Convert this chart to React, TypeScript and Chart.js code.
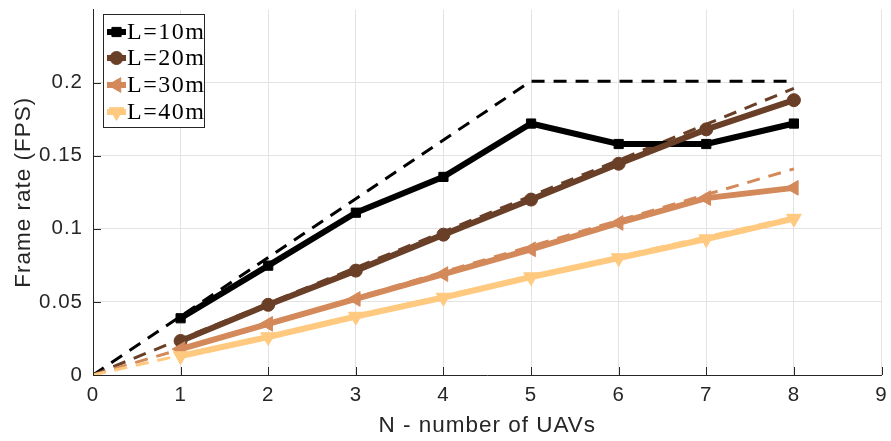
import React, { useEffect, useRef } from "react";
import { Chart, registerables } from "chart.js";
import { drawPoint } from "chart.js/helpers";
Chart.register(...registerables);

const uavCounts = [1, 2, 3, 4, 5, 6, 7, 8];
const fps10 = [0.0388, 0.0748, 0.111, 0.1355, 0.172, 0.158, 0.158, 0.172];
const fps20 = [0.0233, 0.048, 0.0714, 0.096, 0.12, 0.1445, 0.168, 0.188];
const fps30 = [0.0177, 0.035, 0.052, 0.069, 0.086, 0.104, 0.121, 0.128];
const fps40 = [0.013, 0.026, 0.04, 0.053, 0.067, 0.08, 0.093, 0.107];

const boundN10 = [0, 5, 8];
const bound10 = [0, 0.201, 0.201];
const boundN = [0, 8];
const bound20 = [0, 0.196];
const bound30 = [0, 0.141];
const bound40 = [0, 0.108];

const seriesLabels = ["L=10m", "L=20m", "L=30m", "L=40m"];
const seriesColors = ["#000000", "#6a3f27", "#d4895a", "#ffc97f"];
const xTicks = [0, 1, 2, 3, 4, 5, 6, 7, 8, 9];
const yTicks = [0, 0.05, 0.1, 0.15, 0.2];

const markerStyles = [
  { pointStyle: "rect", rotation: 0, radius: 6.5 },
  { pointStyle: "circle", rotation: 0, radius: 6.5 },
  { pointStyle: "triangle", rotation: -90, radius: 8.5 },
  { pointStyle: "triangle", rotation: 180, radius: 8.5 },
];

const toXY = (xs: number[], ys: number[]) => xs.map((x, i) => ({ x, y: ys[i] }));

const spacingPlugin = {
  id: "letterSpacing",
  beforeLayout(chart: any) {
    chart.ctx.letterSpacing = "1px";
  },
  beforeDraw(chart: any) {
    chart.ctx.letterSpacing = "1px";
  },
};

const legendPlugin = {
  id: "insideLegend",
  afterDraw(chart: any) {
    const ctx = chart.ctx;
    const x0 = 103.5, y0 = 14.5, w = 101, h = 113;
    ctx.save();
    ctx.fillStyle = "#ffffff";
    ctx.fillRect(x0, y0, w, h);
    ctx.strokeStyle = "#262626";
    ctx.lineWidth = 1;
    ctx.strokeRect(x0, y0, w, h);
    const rows = [32, 58, 85, 112];
    seriesLabels.forEach((lab, i) => {
      const y = rows[i];
      ctx.strokeStyle = seriesColors[i];
      ctx.fillStyle = seriesColors[i];
      ctx.lineWidth = 6;
      ctx.setLineDash([]);
      ctx.beginPath();
      ctx.moveTo(107, y);
      ctx.lineTo(126, y);
      ctx.stroke();
      ctx.lineWidth = 1;
      drawPoint(ctx, { ...markerStyles[i], borderWidth: 1 } as any, 116.5, y);
      ctx.fillStyle = "#000000";
      ctx.font = '24px "Liberation Serif"';
      ctx.letterSpacing = "1.5px";
      ctx.textBaseline = "middle";
      ctx.textAlign = "left";
      ctx.fillText(lab, 127, y + 1);
    });
    // inward tick marks
    const area = chart.chartArea;
    const xs = chart.scales.x, ys = chart.scales.y;
    ctx.strokeStyle = "#262626";
    ctx.lineWidth = 1;
    xTicks.forEach((t) => {
      const px = Math.round(xs.getPixelForValue(t)) + 0.5;
      ctx.beginPath();
      ctx.moveTo(px, area.bottom);
      ctx.lineTo(px, area.bottom - 8);
      ctx.stroke();
    });
    yTicks.forEach((t) => {
      const py = Math.round(ys.getPixelForValue(t)) + 0.5;
      ctx.beginPath();
      ctx.moveTo(area.left, py);
      ctx.lineTo(area.left + 8, py);
      ctx.stroke();
    });
    ctx.restore();
  },
};

export default function App() {
  const ref = useRef<HTMLCanvasElement>(null);
  useEffect(() => {
    document.body.style.margin = "0";
    const solid = [fps10, fps20, fps30, fps40];
    const bounds = [
      toXY(boundN10, bound10),
      toXY(boundN, bound20),
      toXY(boundN, bound30),
      toXY(boundN, bound40),
    ];
    const datasets: any[] = [];
    [3, 2, 1, 0].forEach((i) => {
      datasets.push({
        label: seriesLabels[i] + " bound",
        data: bounds[i],
        borderColor: seriesColors[i],
        borderWidth: 3,
        borderDash: [13, 9],
        pointRadius: 0,
        fill: false,
        order: 10 - i,
      });
    });
    [3, 2, 1, 0].forEach((i) => {
      datasets.push({
        label: seriesLabels[i],
        data: toXY(uavCounts, solid[i]),
        borderColor: seriesColors[i],
        backgroundColor: seriesColors[i],
        borderWidth: 6,
        pointStyle: markerStyles[i].pointStyle,
        pointRotation: markerStyles[i].rotation,
        pointRadius: markerStyles[i].radius,
        pointBorderWidth: 1,
        fill: false,
        order: 4 - i,
      });
    });
    const chart = new Chart(ref.current!, {
      type: "line",
      data: { datasets },
      plugins: [spacingPlugin, legendPlugin],
      options: {
        animation: false,
        responsive: false,
        layout: { padding: { top: 7, right: 8, left: 0, bottom: 0 } },
        plugins: { legend: { display: false }, tooltip: { enabled: false } },
        scales: {
          x: {
            type: "linear",
            min: 0,
            max: 9,
            afterBuildTicks: (s: any) => {
              s.ticks = xTicks.map((v) => ({ value: v }));
            },
            afterFit: (s: any) => {
              s.height = 66;
              s.paddingLeft = 0;
              s.paddingRight = 0;
            },
            grid: { color: "#e3e3e3", drawTicks: false },
            border: { color: "#262626", width: 1 },
            ticks: {
              color: "#262626",
              font: { family: "Liberation Sans", size: 20.5 },
              padding: 8,
            },
            title: {
              display: true,
              text: "N - number of UAVs",
              color: "#262626",
              font: { family: "Liberation Sans", size: 22.5 },
              padding: { top: 0, bottom: 2 },
            },
          },
          y: {
            type: "linear",
            min: 0,
            max: 0.25,
            afterBuildTicks: (s: any) => {
              s.ticks = yTicks.map((v) => ({ value: v }));
            },
            afterFit: (s: any) => {
              s.width = 93;
              s.paddingTop = 0;
              s.paddingBottom = 0;
            },
            grid: { color: "#e3e3e3", drawTicks: false },
            border: { color: "#262626", width: 1 },
            ticks: {
              color: "#262626",
              font: { family: "Liberation Sans", size: 20.5 },
              padding: 10,
              callback: (v: any) => String(Number(v)),
            },
            title: {
              display: true,
              text: "Frame rate (FPS)",
              color: "#262626",
              font: { family: "Liberation Sans", size: 22.5 },
              padding: { top: 10, bottom: 0 },
            },
          },
        },
      },
    });
    return () => chart.destroy();
  }, []);
  return (
    <div style={{ position: "absolute", left: 0, top: 0, width: 891, height: 441, background: "#fff" }}>
      <canvas ref={ref} width={891} height={441} style={{ width: 891, height: 441 }} />
    </div>
  );
}
